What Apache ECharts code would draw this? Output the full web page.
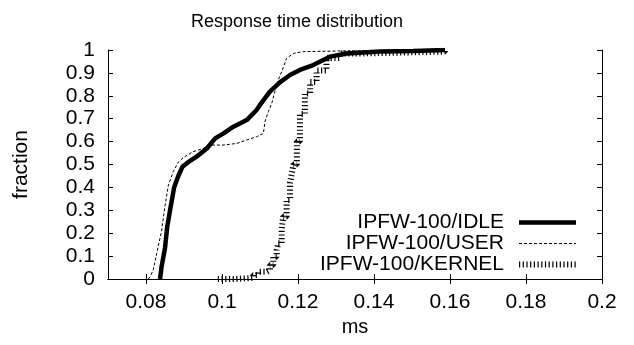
<!DOCTYPE html>
<html>
<head>
<meta charset="utf-8">
<script src="https://cdn.jsdelivr.net/npm/echarts@6/dist/echarts.min.js"></script>
<style>html,body{margin:0;padding:0;background:#fff}#c{width:634px;height:345px}</style>
</head>
<body>
<div id="c"></div>
<script>
var seriesNames = ['IPFW-100/IDLE', 'IPFW-100/USER', 'IPFW-100/KERNEL'];
var xTicks = [0.08, 0.1, 0.12, 0.14, 0.16, 0.18, 0.2];

var idleX = [0.0837, 0.0841, 0.0850, 0.0856, 0.0865, 0.0874, 0.0885, 0.0896, 0.0911, 0.0933, 0.0960, 0.0982, 0.1003, 0.1030, 0.1065, 0.1091, 0.1100, 0.1126, 0.1153, 0.1179, 0.1205, 0.1240, 0.1284, 0.1328, 0.1416, 0.1503, 0.1587];
var idleF = [0, 0.054, 0.135, 0.23, 0.316, 0.40, 0.45, 0.49, 0.51, 0.534, 0.57, 0.614, 0.635, 0.665, 0.694, 0.738, 0.76, 0.818, 0.86, 0.891, 0.913, 0.934, 0.971, 0.985, 0.993, 0.996, 1.0];

var userX = [0.0806, 0.0811, 0.0819, 0.0828, 0.0841, 0.0850, 0.0859, 0.0872, 0.0885, 0.0898, 0.0924, 0.0951, 0.0968, 0.1003, 0.1039, 0.1065, 0.1091, 0.1109, 0.1113, 0.1122, 0.1131, 0.1139, 0.1148, 0.1157, 0.1170, 0.1188, 0.1214, 0.1328, 0.1574];
var userF = [0, 0.01, 0.04, 0.11, 0.21, 0.32, 0.41, 0.47, 0.51, 0.53, 0.556, 0.57, 0.585, 0.585, 0.592, 0.607, 0.621, 0.636, 0.687, 0.731, 0.767, 0.818, 0.869, 0.905, 0.964, 0.985, 0.993, 0.996, 1.0];

var kernelX = [0.0989, 0.1034, 0.1082, 0.1095, 0.1118, 0.1126, 0.1135, 0.1144, 0.1148, 0.1157, 0.1161, 0.1170, 0.1179, 0.1183, 0.1188, 0.1197, 0.1205, 0.1218, 0.1232, 0.1249, 0.1275, 0.1311, 0.1371, 0.1587];
var kernelF = [0, 0.005, 0.017, 0.032, 0.039, 0.061, 0.097, 0.127, 0.156, 0.214, 0.272, 0.345, 0.418, 0.454, 0.50, 0.60, 0.72, 0.81, 0.86, 0.91, 0.965, 0.985, 0.993, 1.0];

function pairs(xs, ys) { return xs.map(function (x, i) { return [x, ys[i]]; }); }

var font = 'Liberation Sans, Arial, sans-serif';
var lineStyles = [
  {color: '#000', width: 4.5, type: 'solid'},
  {color: '#000', width: 1, type: [3, 2]},
  {color: '#000', width: 6, type: [1.2, 2.5]}
];
var chart = echarts.init(document.getElementById('c'), null, {renderer: 'canvas'});
var axisLineStyle = {color: '#000', width: 1};
chart.setOption({
  animation: false,
  backgroundColor: '#fff',
  title: {
    text: 'Response time distribution',
    left: 186, top: 8,
    textStyle: {fontFamily: font, fontSize: 18, fontWeight: 'normal', color: '#000'}
  },
  grid: {left: 108, right: 32, top: 50, bottom: 66, containLabel: false},
  legend: {
    orient: 'vertical', right: 50, top: 207,
    align: 'right',
    itemWidth: 57, itemHeight: 14, itemGap: 0,
    textStyle: {fontFamily: font, fontSize: 21, color: '#000', padding: [0, 10, 0, 0]},
    data: seriesNames.map(function (n, i) {
      return {name: n, itemStyle: {opacity: 0}, lineStyle: lineStyles[i]};
    })
  },
  xAxis: [{
    type: 'value', min: 0.07, max: 0.2,
    name: 'ms', nameLocation: 'middle', nameGap: 36,
    nameTextStyle: {fontFamily: font, fontSize: 20, color: '#000'},
    axisLine: {show: true, lineStyle: axisLineStyle},
    axisTick: {show: true, inside: true, length: 5, lineStyle: axisLineStyle, customValues: xTicks},
    axisLabel: {show: true, margin: 13, fontFamily: font, fontSize: 21, color: '#000', customValues: xTicks},
    splitLine: {show: false}
  }, {
    type: 'value', min: 0.07, max: 0.2, position: 'top',
    axisLine: {show: true, lineStyle: axisLineStyle},
    axisTick: {show: true, inside: true, length: 5, lineStyle: axisLineStyle, customValues: xTicks},
    axisLabel: {show: false},
    splitLine: {show: false}
  }],
  yAxis: [{
    type: 'value', min: 0, max: 1, interval: 0.1,
    name: 'fraction', nameLocation: 'middle', nameGap: 76, nameRotate: 90,
    nameTextStyle: {fontFamily: font, fontSize: 21, color: '#000'},
    axisLine: {show: true, lineStyle: axisLineStyle},
    axisTick: {show: true, inside: true, length: 5, lineStyle: axisLineStyle},
    axisLabel: {show: true, margin: 13, fontFamily: font, fontSize: 21, color: '#000'},
    splitLine: {show: false}
  }, {
    type: 'value', min: 0, max: 1, interval: 0.1, position: 'right',
    axisLine: {show: true, lineStyle: axisLineStyle},
    axisTick: {show: true, inside: true, length: 5, lineStyle: axisLineStyle},
    axisLabel: {show: false},
    splitLine: {show: false}
  }],
  series: [{
    name: seriesNames[0], type: 'line', symbol: 'none',
    data: pairs(idleX, idleF),
    lineStyle: lineStyles[0], itemStyle: {color: '#000'}
  }, {
    name: seriesNames[1], type: 'line', symbol: 'none',
    data: pairs(userX, userF),
    lineStyle: lineStyles[1], itemStyle: {color: '#000'}
  }, {
    name: seriesNames[2], type: 'line', step: 'end', symbol: 'none',
    data: pairs(kernelX, kernelF),
    lineStyle: lineStyles[2], itemStyle: {color: '#000'}
  }]
});
</script>
</body>
</html>
